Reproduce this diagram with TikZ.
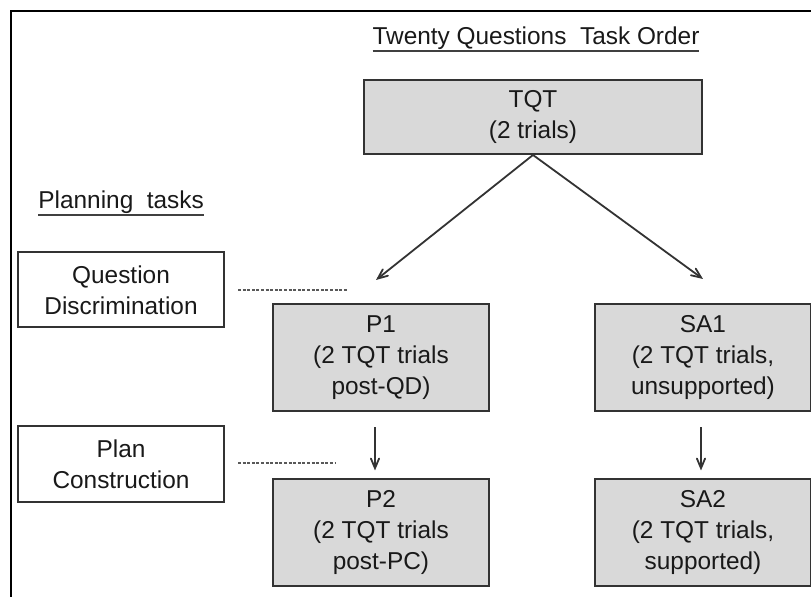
\documentclass[tikz,border=0pt]{standalone}
\usepackage{fontspec}
\setmainfont{Liberation Sans}
\newcommand\ulbar[1]{\setbox0\hbox{#1}\rlap{\copy0}{\color{black!75}\rule[-3.5pt]{\wd0}{1pt}}}
\usetikzlibrary{arrows}

\begin{document}
\begin{tikzpicture}[x=0.5pt,y=-0.5pt,
		every node/.style={font=\fontsize{12.2}{15.5}\selectfont,text=black!90},
		task/.style={draw=black!80,line width=1pt,fill=black!15,align=center,inner sep=0pt,minimum width=108pt,minimum height=53.5pt},
		plan/.style={draw=black!80,line width=1pt,fill=white,align=center,inner sep=0pt,minimum width=103pt,minimum height=37.5pt},
		flow/.style={->,>=angle 45,draw=black!80,line width=0.9pt},
		link/.style={draw=black!65,line width=1pt,dash pattern=on 1.5pt off 0.8pt}]
		\useasboundingbox (0,0) rectangle (811,597);
		\draw[line width=1pt] (11,597) -- (11,11) -- (811,11);
		\node[anchor=base] (title) at (536,45) {\ulbar{Twenty Questions\ \ Task Order}};
		\node[anchor=base west,inner sep=0pt] (planning) at (38,209) {\ulbar{Planning\ \ tasks}};
		\node[task,minimum width=169pt,minimum height=37pt] (TQT) at (533,117) {TQT\\(2 trials)};
		\node[plan] (QD) at (121,290) {Question\\Discrimination};
		\node[plan,minimum height=38pt] (PC) at (121,464) {Plan\\Construction};
		\node[task] (P1) at (381,358) {P1\\(2 TQT trials\\post-QD)};
		\node[task] (SA1) at (703,358) {SA1\\(2 TQT trials,\\unsupported)};
		\node[task] (P2) at (381,533) {P2\\(2 TQT trials\\post-PC)};
		\node[task] (SA2) at (703,533) {SA2\\(2 TQT trials,\\supported)};
		\coordinate (p1in) at (376,280);
		\coordinate (sa1in) at (703,279);
		\coordinate (qdlink) at (347,290);
		\coordinate (pclink) at (336,463);
		\draw[flow] (TQT.south) -- (p1in);
		\draw[flow] (TQT.south) -- (sa1in);
		\draw[flow,shorten <=7.5pt,shorten >=4pt] ([xshift=-3pt]P1.south) -- ([xshift=-3pt]P2.north);
		\draw[flow,shorten <=7.5pt,shorten >=4pt] ([xshift=-1pt]SA1.south) -- ([xshift=-1pt]SA2.north);
		\draw[link] ([xshift=6.5pt]QD.east) -- (qdlink);
		\draw[link] ([xshift=6.5pt]PC.east |- pclink) -- (pclink);
	\end{tikzpicture}
\end{document}
